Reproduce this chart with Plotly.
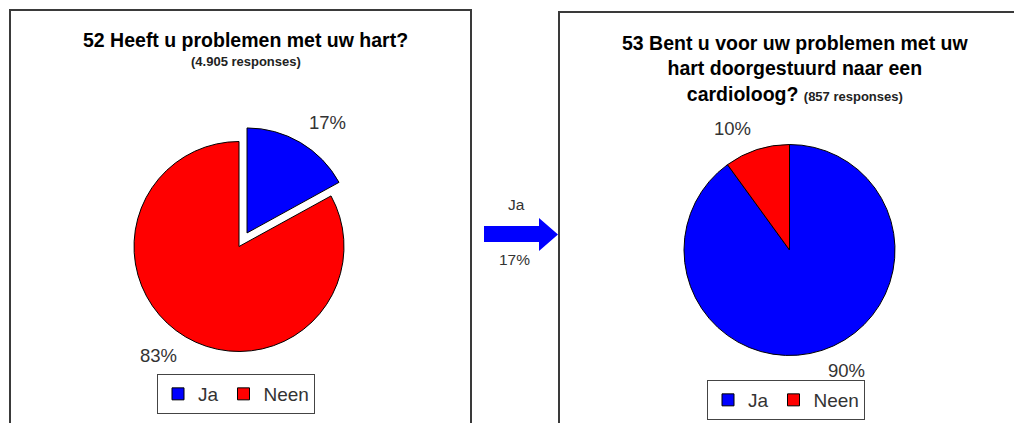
import math
import plotly.graph_objects as go

W, H = 1014, 423

# ---------------- data ----------------
categories = ["Ja", "Neen"]
q52_values = [17, 83]
q53_values = [90, 10]
q52_title = "52 Heeft u problemen met uw hart?"
q52_sub = "(4.905 responses)"
q53_title_lines = ["53 Bent u voor uw problemen met uw", "hart doorgestuurd naar een", "cardioloog?"]
q53_sub = "(857 responses)"
q52_pull = [0.15, 0]
q53_pull = [0, 0]
transition_category = "Ja"

# ---------------- style ----------------
COLORS = ["#0000FF", "#FF0000"]
FONT = "Liberation Sans, Arial, sans-serif"
TXT = "#333333"


def px(x):
    return x / W


def py(y):
    return 1 - y / H


def domain(cx, cy, r, pull):
    half = r * (1 + max(pull))
    return dict(x=[px(cx - half), px(cx + half)], y=[py(cy + half), py(cy - half)])


def pie_labels(values, cx, cy, r, pull, gap=12):
    """Percent labels placed just outside each slice, along its bisector."""
    total = sum(values)
    anns = []
    acc = 0
    for v, p in zip(values, pull):
        mid = (acc + v / 2) / total * 2 * math.pi
        acc += v
        s, c = math.sin(mid), math.cos(mid)
        ax = cx + p * r * s + (r + gap) * s
        ay = cy - p * r * c - (r + gap) * c
        ay += 3 if c > 0 else -4
        anns.append(dict(
            x=px(ax), y=py(ay), xref="paper", yref="paper",
            text=f"{round(v / total * 100)}%", showarrow=False,
            xanchor="left" if s > 0 else "right",
            yanchor="bottom" if c > 0 else "top",
            font=dict(family=FONT, size=18.5, color=TXT),
        ))
    return anns


L_CX, L_CY, L_R = 239, 246.5, 105
R_CX, R_CY, R_R = 789.5, 250, 105.5

fig = go.Figure()
fig.add_trace(go.Pie(
    labels=categories, values=q52_values, sort=False, direction="clockwise", rotation=0,
    pull=q52_pull, textinfo="none", hoverinfo="label+percent",
    marker=dict(colors=COLORS, line=dict(color="black", width=1)),
    domain=domain(L_CX, L_CY, L_R, q52_pull), legend="legend", legendgroup="q52",
    showlegend=True,
))
fig.add_trace(go.Pie(
    labels=categories, values=q53_values, sort=False, direction="clockwise", rotation=0,
    pull=q53_pull, textinfo="none", hoverinfo="label+percent",
    marker=dict(colors=COLORS, line=dict(color="black", width=1)),
    domain=domain(R_CX, R_CY, R_R, q53_pull), legend="legend2", legendgroup="q53",
    showlegend=True,
))

annotations = []
annotations += pie_labels(q52_values, L_CX, L_CY, L_R, q52_pull)
annotations += pie_labels(q53_values, R_CX, R_CY, R_R, q53_pull)

# titles
annotations.append(dict(x=px(245.5), y=py(40), xref="paper", yref="paper", showarrow=False,
                        text=f"<b>{q52_title}</b>", xanchor="center", yanchor="middle",
                        font=dict(family=FONT, size=19.5, color="black")))
annotations.append(dict(x=px(245.5), y=py(62), xref="paper", yref="paper", showarrow=False,
                        text=f"<b>{q52_sub}</b>", xanchor="center", yanchor="middle",
                        font=dict(family=FONT, size=13, color="#222222")))
annotations.append(dict(
    x=px(795), y=py(68), xref="paper", yref="paper", showarrow=False,
    text="<b>" + "<br>".join(q53_title_lines[:-1]) + "<br>" + q53_title_lines[-1]
         + " <span style='font-size:13px;color:#222222'>" + q53_sub + "</span></b>",
    xanchor="center", yanchor="middle", align="center",
    font=dict(family=FONT, size=19.5, color="black")))

# transition arrow labels
annotations.append(dict(x=px(516), y=py(205), xref="paper", yref="paper", showarrow=False,
                        text=transition_category, xanchor="center", yanchor="middle",
                        font=dict(family=FONT, size=15.5, color=TXT)))
annotations.append(dict(x=px(514), y=py(259), xref="paper", yref="paper", showarrow=False,
                        text=f"{round(q52_values[categories.index(transition_category)] / sum(q52_values) * 100)}%",
                        xanchor="center", yanchor="middle",
                        font=dict(family=FONT, size=15.5, color=TXT)))

# frames and arrow
shapes = [
    dict(type="rect", xref="paper", yref="paper", x0=px(10), x1=px(471), y0=py(10), y1=py(440),
         line=dict(color="#3a3a3a", width=2), fillcolor="rgba(0,0,0,0)", layer="below"),
    dict(type="rect", xref="paper", yref="paper", x0=px(559), x1=px(1030), y0=py(12), y1=py(440),
         line=dict(color="#3a3a3a", width=2), fillcolor="rgba(0,0,0,0)", layer="below"),
]
arrow_pts = [(484, 226), (539, 226), (539, 218), (558, 234.5), (539, 251), (539, 242), (484, 242)]
path = "M" + " L".join(f"{px(x):.5f},{py(y):.5f}" for x, y in arrow_pts) + " Z"
shapes.append(dict(type="path", xref="paper", yref="paper", path=path,
                   fillcolor="#0000FF", line=dict(width=0)))

legend_common = dict(orientation="h", xanchor="center", yanchor="top", traceorder="normal",
                     bordercolor="#444444", borderwidth=1, bgcolor="white",
                     itemwidth=30, font=dict(family=FONT, size=19, color=TXT))

fig.update_layout(
    width=W, height=H,
    margin=dict(l=0, r=0, t=0, b=0, autoexpand=False),
    paper_bgcolor="white", plot_bgcolor="white",
    annotations=annotations, shapes=shapes,
    legend=dict(x=px(236), y=py(374), **legend_common),
    legend2=dict(x=px(786), y=py(380), **legend_common),
)

fig.write_html("out.html", config={"displayModeBar": False},
               post_script="document.body.style.margin='0';document.body.style.overflow='hidden';")
